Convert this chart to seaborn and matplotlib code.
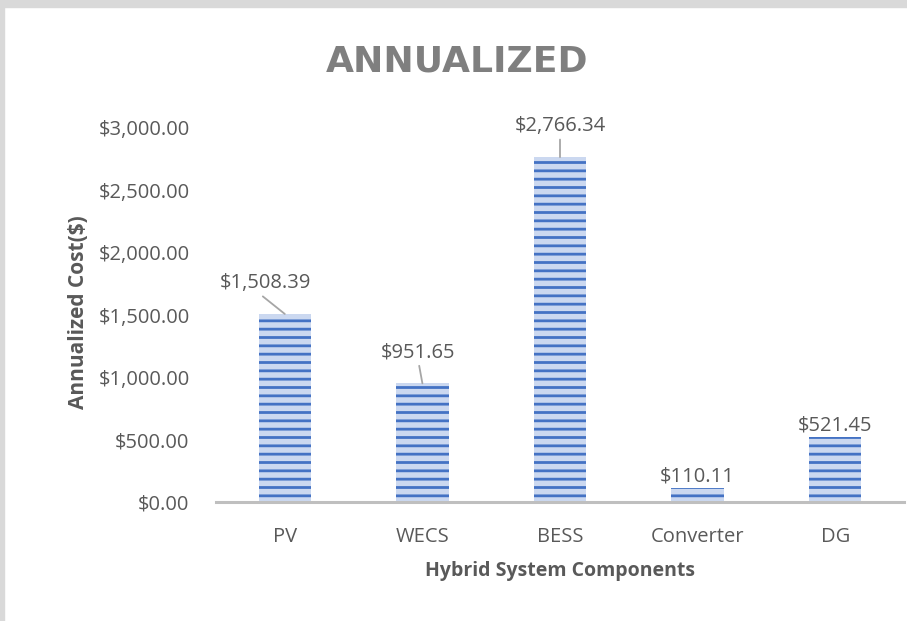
import matplotlib
matplotlib.use("Agg")
import matplotlib.pyplot as plt
import seaborn as sns
import pandas as pd
from matplotlib.ticker import FuncFormatter

# annualized cost per component
components = ["PV", "WECS", "BESS", "Converter", "DG"]
costs = [1508.39, 951.65, 2766.34, 110.11, 521.45]
yticks = [0, 500, 1000, 1500, 2000, 2500, 3000]

df = pd.DataFrame({"component": components, "cost": costs})

sns.set_style("white")
plt.rcParams["font.family"] = ["Open Sans", "DejaVu Sans"]
plt.rcParams["hatch.color"] = "#4472c4"
plt.rcParams["hatch.linewidth"] = 2.0

txt_col = "#595959"

fig = plt.figure(figsize=(9.07, 6.21), dpi=100)
fig.patch.set_facecolor("white")
# grey frame on top / left like the screenshot
fig.add_artist(plt.Rectangle((0, 0.988), 1, 0.012, transform=fig.transFigure, color="#d9d9d9", zorder=0))
fig.add_artist(plt.Rectangle((0, 0), 0.004, 1, transform=fig.transFigure, color="#d9d9d9", zorder=0))

ax = fig.add_axes([216 / 907, 119 / 621, 688 / 907, 380 / 621])
sns.barplot(data=df, x="component", y="cost", ax=ax, color="#cbd8f0",
            width=0.38, saturation=1, edgecolor="none", linewidth=0)
for p in ax.patches:
    p.set_hatch("--")
    p.set_edgecolor("#4472c4")
    p.set_linewidth(0)

ax.set_xlim(-0.5, 4.5)
ax.set_ylim(0, 3000 * 380 / 374)
ax.set_yticks(yticks)
ax.yaxis.set_major_formatter(FuncFormatter(lambda v, _: f"${v:,.2f}"))
ax.tick_params(axis="both", length=0, labelsize=14.5, labelcolor=txt_col)
ax.tick_params(axis="y", pad=19)
ax.tick_params(axis="x", pad=18)
for s in ["top", "right", "left"]:
    ax.spines[s].set_visible(False)
ax.spines["bottom"].set_color("#bfbfbf")
ax.spines["bottom"].set_linewidth(2.2)

ax.set_xlabel("Hybrid System Components", fontsize=14, fontweight="bold", color=txt_col, labelpad=10)
ax.set_ylabel("Annualized Cost($)", fontsize=15, fontweight="bold", color=txt_col, labelpad=7)
fig.text(457 / 907, 1 - 61 / 621, "ANNUALIZED", ha="center", va="center",
         fontsize=26, fontweight="bold", color="#7f7f7f", family=["DejaVu Sans"])

# data labels; the taller bars get a leader line (PV label sits a bit to the left)
leader = [True, True, True, False, False]
label_dx = [-14, -3, 0, 0, 0]
for i, (v, lead, dx) in enumerate(zip(costs, leader, label_dx)):
    txt = f"${v:,.2f}"
    if lead:
        ax.annotate(txt, xy=(i, v), xytext=(dx, 15), textcoords="offset points",
                    ha="center", va="bottom", fontsize=14.5, color=txt_col,
                    arrowprops=dict(arrowstyle="-", color="#a6a6a6", lw=1.3,
                                    shrinkA=0, shrinkB=0, relpos=(0.4 if dx < -5 else 0.5, 0.1)))
    else:
        ax.annotate(txt, xy=(i, v), xytext=(0, 1), textcoords="offset points",
                    ha="center", va="bottom", fontsize=14.5, color=txt_col)

fig.savefig("out.png", dpi=100)
